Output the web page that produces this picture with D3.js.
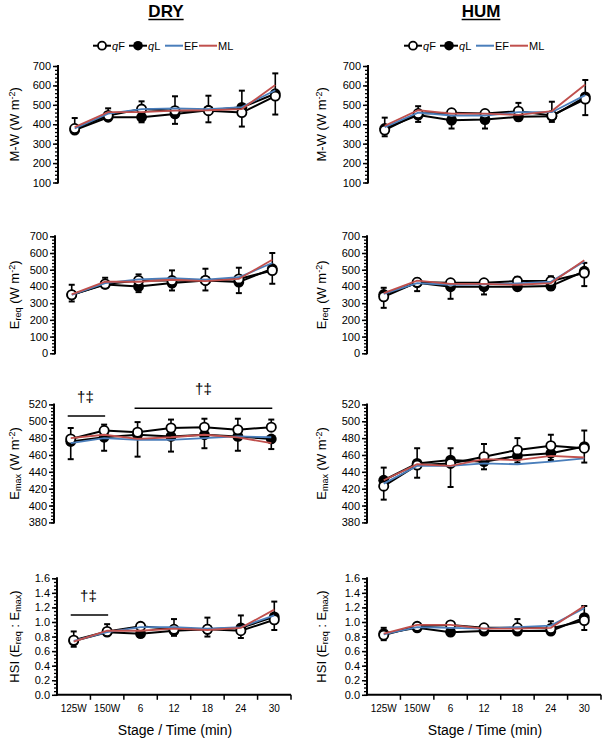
<!DOCTYPE html>
<html>
<head>
<meta charset="utf-8">
<script src="https://cdn.jsdelivr.net/npm/d3@7"></script>
<style>
  html, body { margin: 0; padding: 0; background: #fff; }
  text { font-family: "Liberation Sans", Arial, Helvetica, sans-serif; fill: #000; }
</style>
</head>
<body>
<svg id="chart" width="602" height="741"></svg>
<script>
// ---------------- DATA ----------------
const stages = ["125W", "150W", "6", "12", "18", "24", "30"];
const columnTitles = ["DRY", "HUM"];
const seriesNames = ["qF", "qL", "EF", "ML"];
const xAxisTitle = "Stage / Time (min)";

// DRY — M-W
const dryMW_qF = [378, 445, 478, 470, 470, 460, 545];
const dryMW_qF_sd = [54, 37, 40, 74, 77, 113, 117];
const dryMW_qL = [370, 436, 436, 453, 472, 487, 557];
const dryMW_qL_sd = [15, 16, 26, 51, 62, 99, 107];
const dryMW_EF = [378, 455, 478, 482, 478, 488, 575];
const dryMW_ML = [385, 462, 462, 470, 472, 478, 602];

// DRY — Ereq
const dryEreq_qF = [350, 415, 436, 435, 436, 445, 495];
const dryEreq_qF_sd = [60, 37, 36, 61, 70, 67, 105];
const dryEreq_qL = [350, 412, 400, 420, 436, 426, 506];
const dryEreq_qL_sd = [40, 17, 34, 44, 60, 66, 90];
const dryEreq_EF = [350, 420, 442, 450, 440, 455, 540];
const dryEreq_ML = [352, 428, 428, 440, 432, 445, 560];

// DRY — Emax
const dryEmax_qF = [479, 489, 487, 492, 493, 490, 493];
const dryEmax_qF_sd = [13, 7, 12, 10, 10, 13, 9];
const dryEmax_qL = [476, 481, 484, 482, 484, 482, 479];
const dryEmax_qL_sd = [21, 16, 26, 18, 16, 17, 12];
const dryEmax_EF = [474, 480, 478, 478, 480, 482, 481];
const dryEmax_ML = [480, 484, 479, 481, 484, 481, 474];

// DRY — HSI
const dryHSI_qF = [0.75, 0.87, 0.94, 0.90, 0.90, 0.88, 1.03];
const dryHSI_qF_sd = [0.12, 0.10, 0.04, 0.14, 0.16, 0.21, 0.25];
const dryHSI_qL = [0.74, 0.86, 0.84, 0.88, 0.90, 0.92, 1.07];
const dryHSI_qL_sd = [0.08, 0.04, 0.04, 0.07, 0.10, 0.14, 0.18];
const dryHSI_EF = [0.74, 0.86, 0.93, 0.93, 0.91, 0.93, 1.09];
const dryHSI_ML = [0.73, 0.88, 0.88, 0.91, 0.89, 0.92, 1.17];

// HUM — M-W
const humMW_qF = [370, 455, 459, 455, 467, 445, 530];
const humMW_qF_sd = [64, 38, 16, 10, 43, 71, 98];
const humMW_qL = [378, 447, 421, 424, 438, 441, 541];
const humMW_qL_sd = [40, 35, 43, 46, 18, 29, 94];
const humMW_EF = [385, 460, 445, 445, 462, 462, 550];
const humMW_ML = [392, 472, 455, 455, 448, 468, 605];

// HUM — Ereq
const humEreq_qF = [338, 425, 422, 422, 432, 432, 480];
const humEreq_qF_sd = [54, 21, 8, 6, 25, 29, 61];
const humEreq_qL = [352, 422, 398, 398, 398, 402, 491];
const humEreq_qL_sd = [80, 50, 72, 46, 20, 22, 89];
const humEreq_EF = [355, 420, 410, 412, 418, 428, 550];
const humEreq_ML = [360, 435, 415, 415, 410, 420, 557];

// HUM — Emax
const humEmax_qF = [423, 448, 450, 458, 466, 471, 468];
const humEmax_qF_sd = [22, 20, 18, 15, 14, 13, 21];
const humEmax_qL = [430, 450, 454, 452, 459, 462, 470];
const humEmax_qL_sd = [23, 17, 32, 9, 8, 8, 19];
const humEmax_EF = [426, 447, 447, 450, 449, 452, 456];
const humEmax_ML = [430, 449, 447, 455, 454, 459, 457];

// HUM — HSI
const humHSI_qF = [0.82, 0.94, 0.96, 0.92, 0.92, 0.91, 1.02];
const humHSI_qF_sd = [0.10, 0.02, 0.02, 0.02, 0.12, 0.10, 0.20];
const humHSI_qL = [0.84, 0.92, 0.86, 0.875, 0.875, 0.875, 1.06];
const humHSI_qL_sd = [0.09, 0.03, 0.04, 0.035, 0.035, 0.035, 0.17];
const humHSI_EF = [0.83, 0.93, 0.92, 0.91, 0.93, 0.95, 1.19];
const humHSI_ML = [0.84, 0.96, 0.96, 0.91, 0.91, 0.92, 1.22];

// Axis definitions per row: [min, max], major step, minor step
const rowDomains = [[100, 700], [0, 700], [380, 520], [0, 1.6]];
const rowMajorSteps = [100, 100, 20, 0.2];
const rowMinorSteps = [20, 20, 4, 0.05];

// Significance brackets (DRY): [row, fromStage, toStage]
const sigBrackets = [[2, "125W", "150W"], [2, "6", "30"], [3, "125W", "150W"]];
const sigLabel = "\u2020\u2021";

// ---------------- LAYOUT ----------------
const svg = d3.select("#chart");
const colAxisX = [[58, 55, 54, 57], [368, 367, 367, 367]];
const plotW = 234;
const rowTop = [66, 236.3, 404.4, 578.3];
const rowBottom = [182.5, 353.3, 522.4, 694.8];
const yTitleX = [15, 322];
const COL_BLUE = "#4a7ebb";
const COL_RED = "#c0504d";

const data = [
  [
    {qF: dryMW_qF, qFsd: dryMW_qF_sd, qL: dryMW_qL, qLsd: dryMW_qL_sd, EF: dryMW_EF, ML: dryMW_ML},
    {qF: dryEreq_qF, qFsd: dryEreq_qF_sd, qL: dryEreq_qL, qLsd: dryEreq_qL_sd, EF: dryEreq_EF, ML: dryEreq_ML},
    {qF: dryEmax_qF, qFsd: dryEmax_qF_sd, qL: dryEmax_qL, qLsd: dryEmax_qL_sd, EF: dryEmax_EF, ML: dryEmax_ML},
    {qF: dryHSI_qF, qFsd: dryHSI_qF_sd, qL: dryHSI_qL, qLsd: dryHSI_qL_sd, EF: dryHSI_EF, ML: dryHSI_ML}
  ],
  [
    {qF: humMW_qF, qFsd: humMW_qF_sd, qL: humMW_qL, qLsd: humMW_qL_sd, EF: humMW_EF, ML: humMW_ML},
    {qF: humEreq_qF, qFsd: humEreq_qF_sd, qL: humEreq_qL, qLsd: humEreq_qL_sd, EF: humEreq_EF, ML: humEreq_ML},
    {qF: humEmax_qF, qFsd: humEmax_qF_sd, qL: humEmax_qL, qLsd: humEmax_qL_sd, EF: humEmax_EF, ML: humEmax_ML},
    {qF: humHSI_qF, qFsd: humHSI_qF_sd, qL: humHSI_qL, qLsd: humHSI_qL_sd, EF: humHSI_EF, ML: humHSI_ML}
  ]
];

function range(a, b, s) {
  const out = [];
  const n = Math.round((b - a) / s);
  for (let i = 0; i <= n; i++) out.push(+(a + i * s).toFixed(6));
  return out;
}

// y-axis title builder
function yTitle(g, row) {
  const t = g.append("text").attr("text-anchor", "middle").attr("font-size", 13);
  const sub = (txt) => t.append("tspan").attr("font-size", 9).attr("baseline-shift", "-25%").text(txt);
  const sup = (txt) => t.append("tspan").attr("font-size", 9).attr("baseline-shift", "45%").text(txt);
  const plain = (txt) => t.append("tspan").text(txt);
  if (row === 0) { plain("M-W (W m"); sup("-2"); plain(")"); }
  if (row === 1) { plain("E"); sub("req"); plain(" (W m"); sup("-2"); plain(")"); }
  if (row === 2) { plain("E"); sub("max"); plain(" (W m"); sup("-2"); plain(")"); }
  if (row === 3) { plain("HSI (E"); sub("req"); plain(" : E"); sub("max"); plain(")"); }
  return t;
}

for (let c = 0; c < 2; c++) {
  for (let r = 0; r < 4; r++) {
    const ax = colAxisX[c][r];
    const x = d3.scaleBand().domain(stages).range([ax, ax + plotW]).padding(0);
    const cx = (s) => x(s) + x.bandwidth() / 2;
    const [d0, d1] = rowDomains[r];
    const y = d3.scaleLinear().domain([d0, d1]).range([rowBottom[r], rowTop[r]]);
    const g = svg.append("g");
    const fmt = r === 3 ? d3.format(".1f") : d3.format("d");

    // minor ticks
    g.append("g").attr("transform", `translate(${ax},0)`)
      .call(d3.axisLeft(y).tickValues(range(d0, d1, rowMinorSteps[r])).tickSize(3).tickSizeOuter(0).tickFormat(""))
      .call(s => s.select(".domain").remove())
      .call(s => s.selectAll("line").attr("stroke-width", 1.3));
    // major ticks
    g.append("g").attr("transform", `translate(${ax},0)`)
      .call(d3.axisLeft(y).tickValues(range(d0, d1, rowMajorSteps[r])).tickSize(5).tickSizeOuter(0).tickPadding(2).tickFormat(fmt))
      .call(s => s.select(".domain").attr("stroke-width", 2).attr("d", `M0,${rowTop[r] - 1}V${rowBottom[r] + 1}`))
      .call(s => s.selectAll("line").attr("stroke-width", 1.5))
      .call(s => s.selectAll("text").attr("font-size", 11).attr("font-family", "Liberation Sans, Arial, sans-serif").attr("fill", "#000"));

    // y title
    const yt = yTitle(g, r);
    yt.attr("transform", `translate(${yTitleX[c] + 4},${(rowTop[r] + rowBottom[r]) / 2}) rotate(-90)`);

    // x axis for bottom row
    if (r === 3) {
      const xg = g.append("g").attr("transform", `translate(0,${rowBottom[r]})`);
      xg.call(d3.axisBottom(x).tickSize(0).tickPadding(10))
        .call(s => s.select(".domain").attr("stroke-width", 2).attr("d", `M${ax - 1},0H${ax + plotW}`))
        .call(s => s.selectAll("text").attr("font-size", 10).attr("font-family", "Liberation Sans, Arial, sans-serif").attr("fill", "#000"));
      const bounds = stages.map(s => x(s)).concat([ax + plotW]).slice(1);
      xg.selectAll("line.bt").data(bounds).enter().append("line")
        .attr("x1", d => d).attr("x2", d => d).attr("y1", 0).attr("y2", 5)
        .attr("stroke", "#000").attr("stroke-width", 1.5);
      g.append("text").attr("x", ax + plotW / 2 + 1).attr("y", 735)
        .attr("text-anchor", "middle").attr("font-size", 14).text(xAxisTitle);
    }

    const dd = data[c][r];
    const pts = (arr) => stages.map((s, i) => [cx(s), y(arr[i])]);
    const line = d3.line();

    // error bars: qF upward, qL downward
    const eb = g.append("g").attr("stroke", "#000").attr("stroke-width", 1.6).attr("fill", "none");
    stages.forEach((s, i) => {
      const px = cx(s);
      const yu = y(dd.qF[i] + dd.qFsd[i]);
      eb.append("line").attr("x1", px).attr("x2", px).attr("y1", y(dd.qF[i])).attr("y2", yu);
      eb.append("line").attr("x1", px - 3).attr("x2", px + 3).attr("y1", yu).attr("y2", yu).attr("stroke-width", 2);
      const yd = y(dd.qL[i] - dd.qLsd[i]);
      eb.append("line").attr("x1", px).attr("x2", px).attr("y1", y(dd.qL[i])).attr("y2", yd);
      eb.append("line").attr("x1", px - 3).attr("x2", px + 3).attr("y1", yd).attr("y2", yd).attr("stroke-width", 2);
    });

    // black lines
    g.append("path").attr("d", line(pts(dd.qL))).attr("fill", "none").attr("stroke", "#000").attr("stroke-width", 2);
    g.append("path").attr("d", line(pts(dd.qF))).attr("fill", "none").attr("stroke", "#000").attr("stroke-width", 2);
    // markers
    g.append("g").selectAll("circle").data(pts(dd.qL)).enter().append("circle")
      .attr("cx", d => d[0]).attr("cy", d => d[1]).attr("r", 5.4).attr("fill", "#000");
    g.append("g").selectAll("circle").data(pts(dd.qF)).enter().append("circle")
      .attr("cx", d => d[0]).attr("cy", d => d[1]).attr("r", 4.6).attr("fill", "#fff")
      .attr("stroke", "#000").attr("stroke-width", 1.8);
    // coloured lines on top
    g.append("path").attr("d", line(pts(dd.EF))).attr("fill", "none").attr("stroke", COL_BLUE).attr("stroke-width", 1.8);
    g.append("path").attr("d", line(pts(dd.ML))).attr("fill", "none").attr("stroke", COL_RED).attr("stroke-width", 1.8);

    // significance brackets (DRY column)
    if (c === 0) {
      sigBrackets.filter(b => b[0] === r).forEach(b => {
        const x1 = cx(b[1]) - 3, x2 = cx(b[2]) + 1;
        const long = b[1] !== "125W";
        const by = r === 2 ? (long ? 408.3 : 416) : 615;
        g.append("line").attr("x1", x1).attr("x2", x2).attr("y1", by).attr("y2", by)
          .attr("stroke", "#000").attr("stroke-width", 1.6);
        g.append("text").attr("x", (x1 + x2) / 2 - (long ? 0 : 1)).attr("y", by - 14)
          .attr("text-anchor", "middle").attr("font-size", 15)
          .attr("font-family", "DejaVu Serif, Liberation Serif, serif")
          .style("fill", "#000").text(sigLabel);
      });
    }
  }
}

// column titles
const titleX = [166, 481];
columnTitles.forEach((t, i) => {
  const txt = svg.append("text").attr("x", titleX[i]).attr("y", 16.5).attr("text-anchor", "middle")
    .attr("font-size", 17).attr("font-weight", "bold").text(t);
  const w = txt.node().getComputedTextLength();
  svg.append("line").attr("x1", titleX[i] - w / 2).attr("x2", titleX[i] + w / 2)
    .attr("y1", 19.5).attr("y2", 19.5).attr("stroke", "#000").attr("stroke-width", 1.5);
});

// legends
const legendX = [93, 404];
const itemOffsets = [0, 36, 72, 106];
const legY = 45.7;
legendX.forEach(lx => {
  seriesNames.forEach((name, i) => {
    const ix = lx + itemOffsets[i];
    const lg = svg.append("g");
    const col = name === "EF" ? COL_BLUE : name === "ML" ? COL_RED : "#000";
    lg.append("line").attr("x1", ix).attr("x2", ix + 18).attr("y1", legY).attr("y2", legY)
      .attr("stroke", col).attr("stroke-width", 2);
    if (name === "qF") {
      lg.append("circle").attr("cx", ix + 9).attr("cy", legY).attr("r", 4).attr("fill", "#fff")
        .attr("stroke", "#000").attr("stroke-width", 1.8);
    } else if (name === "qL") {
      lg.append("circle").attr("cx", ix + 9).attr("cy", legY).attr("r", 4.8).attr("fill", "#000");
    }
    const t = lg.append("text").attr("x", ix + 19).attr("y", legY + 4).attr("font-size", 11);
    if (name[0] === "q") {
      t.append("tspan").attr("font-style", "italic").text("q");
      t.append("tspan").text(name.slice(1));
    } else {
      t.text(name);
    }
  });
});
</script>
</body>
</html>
